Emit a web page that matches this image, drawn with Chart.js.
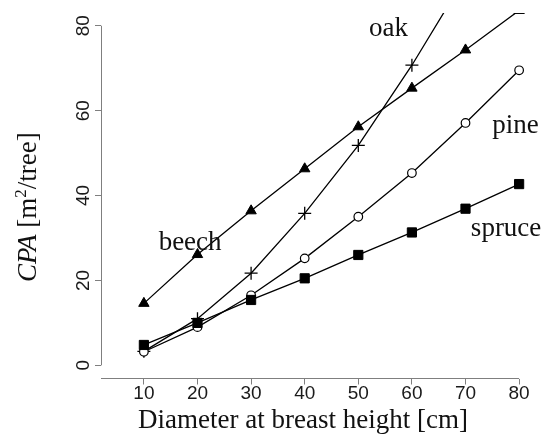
<!DOCTYPE html>
<html>
<head>
<meta charset="utf-8">
<script src="https://cdn.jsdelivr.net/npm/chart.js@4.4.1/dist/chart.umd.min.js"></script>
<style>
  html, body { margin: 0; padding: 0; background: #fff; }
  #wrap { width: 543px; height: 435px; }
</style>
</head>
<body>
<div id="wrap"><canvas id="cpaChart" width="543" height="435"></canvas></div>
<script>
// crown projection area per tree vs. diameter at breast height
const diameters = [10, 20, 30, 40, 50, 60, 70, 80];
const beech  = [14.6, 26.1, 36.4, 46.3, 56.2, 65.3, 74.3, 83.6];
const oak    = [3.3, 11.0, 21.7, 35.8, 51.8, 70.7, 91.5, null];
const pine   = [3.2, 9.0, 16.5, 25.2, 35.0, 45.3, 57.1, 69.5];
const spruce = [4.8, 10.0, 15.4, 20.5, 26.0, 31.3, 36.9, 42.7];
const xTicks = [10, 20, 30, 40, 50, 60, 70, 80];
const yTicks = [0, 20, 40, 60, 80];

const axisColor = '#7f7f7f';
const inkColor = '#111';
const serif = "'Liberation Serif', 'DejaVu Serif', serif";
const sans = "'Liberation Sans', Arial, sans-serif";

function toPoints(values) {
    return diameters.map((d, i) => ({ x: d, y: values[i] }));
}

function series(label, values, style) {
    return Object.assign({
        label: label,
        data: toPoints(values),
        borderColor: '#000',
        borderWidth: 1.3,
        pointBorderColor: '#000',
        pointBackgroundColor: '#000',
        pointBorderWidth: 1,
        pointHoverRadius: 0,
        tension: 0,
        clip: { left: 15, right: 15, top: 0, bottom: 15 }
    }, style);
}

// axis lines, rotated y labels, titles and species names
const annotate = {
    id: 'annotate',
    afterDraw(chart) {
        const { ctx, chartArea } = chart;
        const x = chart.scales.x;
        const y = chart.scales.y;
        ctx.save();

        // R-style detached axes
        ctx.strokeStyle = axisColor;
        ctx.lineWidth = 1;
        ctx.beginPath();
        const ax = Math.floor(chartArea.left) + 0.5;
        ctx.moveTo(ax, y.getPixelForValue(yTicks[0]));
        ctx.lineTo(ax, y.getPixelForValue(yTicks[yTicks.length - 1]));
        const ay = Math.floor(chartArea.bottom) + 0.5;
        ctx.moveTo(chartArea.left, ay);
        ctx.lineTo(x.getPixelForValue(xTicks[xTicks.length - 1]), ay);
        ctx.stroke();

        // y tick labels, rotated like R's default las=0
        ctx.fillStyle = '#1a1a1a';
        ctx.font = '19px ' + sans;
        ctx.textAlign = 'center';
        ctx.textBaseline = 'alphabetic';
        yTicks.forEach(v => {
            ctx.save();
            ctx.translate(88.5, y.getPixelForValue(v));
            ctx.rotate(-Math.PI / 2);
            ctx.fillText(String(v), 0, 0);
            ctx.restore();
        });

        ctx.fillStyle = inkColor;

        // x title
        ctx.font = '27px ' + serif;
        ctx.textAlign = 'center';
        ctx.fillText('Diameter at breast height [cm]', 303, 428);

        // y title: italic CPA, superscript 2
        ctx.save();
        ctx.translate(36, 282);
        ctx.rotate(-Math.PI / 2);
        ctx.textAlign = 'left';
        let cx = 0;
        ctx.font = 'italic 27px ' + serif;
        ctx.fillText('CPA', cx, 0);
        cx += ctx.measureText('CPA').width;
        ctx.font = '27px ' + serif;
        ctx.fillText(' [m', cx, 0);
        cx += ctx.measureText(' [m').width;
        ctx.font = '17px ' + serif;
        ctx.fillText('2', cx, -10);
        cx += ctx.measureText('2').width;
        ctx.font = '27px ' + serif;
        ctx.fillText('/tree]', cx, 0);
        ctx.restore();

        // species names, anchored in data units
        ctx.font = '27px ' + serif;
        ctx.textAlign = 'left';
        [['oak', 52.0, 77.6], ['pine', 75.0, 54.7], ['spruce', 71.0, 30.5], ['beech', 12.75, 27.2]]
            .forEach(([name, dx, dy]) => {
                ctx.fillText(name, x.getPixelForValue(dx), y.getPixelForValue(dy));
            });

        ctx.restore();
    }
};

const ctx = document.getElementById('cpaChart').getContext('2d');
const cpaChart = new Chart(ctx, {
    type: 'line',
    data: {
        datasets: [
            series('spruce', spruce, { pointStyle: 'rect', pointRadius: 6.5 }),
            series('pine', pine, { pointStyle: 'circle', pointRadius: 4.3, pointBackgroundColor: '#fff', pointBorderWidth: 1.2 }),
            series('oak', oak, { pointStyle: 'cross', pointRadius: 6.5, pointBorderWidth: 1.3 }),
            series('beech', beech, { pointStyle: 'triangle', pointRadius: 6 })
        ]
    },
    options: {
        responsive: false,
        animation: false,
        events: [],
        layout: { padding: { top: 13, right: 5, left: 0, bottom: 0 } },
        plugins: {
            legend: { display: false },
            tooltip: { enabled: false }
        },
        scales: {
            x: {
                type: 'linear',
                min: 2,
                max: 83,
                afterBuildTicks: scale => { scale.ticks = xTicks.map(v => ({ value: v })); },
                afterFit: scale => { scale.height = 56.5; },
                border: { display: false },
                grid: { drawOnChartArea: false, drawTicks: true, tickLength: 6, color: axisColor },
                ticks: {
                    color: '#1a1a1a',
                    padding: 0,
                    maxRotation: 0,
                    font: { family: sans, size: 19, lineHeight: 1 }
                }
            },
            y: {
                type: 'linear',
                min: -3.1,
                max: 83,
                afterBuildTicks: scale => { scale.ticks = yTicks.map(v => ({ value: v })); },
                afterFit: scale => { scale.width = 101; },
                border: { display: false },
                grid: { drawOnChartArea: false, drawTicks: true, tickLength: 6, color: axisColor },
                ticks: { display: false }
            }
        }
    },
    plugins: [annotate]
});
</script>
</body>
</html>
